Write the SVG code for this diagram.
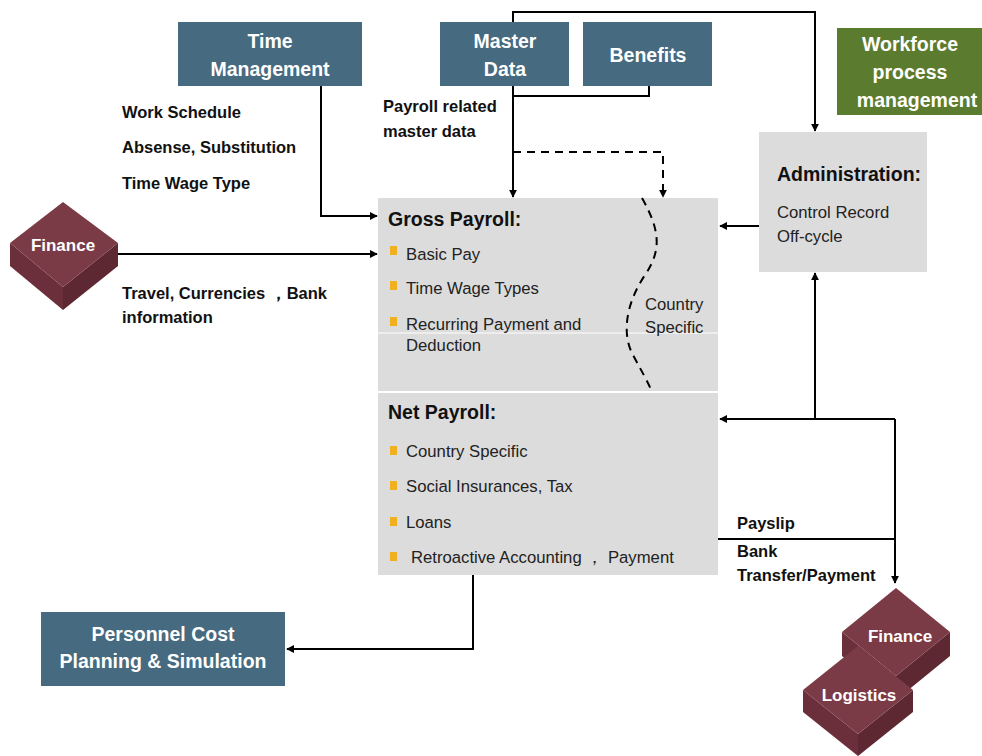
<svg xmlns="http://www.w3.org/2000/svg" width="982" height="756" viewBox="0 0 982 756">
<defs>
<marker id="ah" viewBox="0 0 10 10" refX="9" refY="5" markerWidth="8" markerHeight="8" markerUnits="userSpaceOnUse" orient="auto"><path d="M0,0 L10,5 L0,10 z" fill="#000"/></marker>
<style>
.blue{fill:#466a7f}
.gray{fill:#dcdcdc}
.wt{fill:#fff;font-family:"Liberation Sans",Arial,sans-serif;font-weight:bold;font-size:19.5px;text-anchor:middle}
.lb{fill:#111;font-family:"Liberation Sans",Arial,sans-serif;font-weight:bold;font-size:16.5px}
.hd{fill:#111;font-family:"Liberation Sans",Arial,sans-serif;font-weight:bold;font-size:19.5px}
.it{fill:#222;font-family:"Liberation Sans",Arial,sans-serif;font-size:16.7px}
.bul{fill:#f0b020}
.ln{fill:none;stroke:#000;stroke-width:2}
.dash{fill:none;stroke:#000;stroke-width:2;stroke-dasharray:8,6}
.m1{fill:#7b3b46}
.m2{fill:#6a2f3a}
.m3{fill:#5e2832}
</style>
</defs>
<rect width="982" height="756" fill="#fff"/>

<g id="time-management"><rect class="blue" x="178" y="22" width="184" height="64"/><text class="wt" x="270" y="48">Time</text><text class="wt" x="270" y="76">Management</text></g>
<g id="master-data"><rect class="blue" x="440" y="22" width="129" height="64"/><text class="wt" x="505" y="48">Master</text><text class="wt" x="505" y="76">Data</text></g>
<g id="benefits"><rect class="blue" x="583" y="22" width="129" height="64"/><text class="wt" x="648" y="62">Benefits</text></g>
<g id="workforce"><rect fill="#5b7b2f" x="837" y="28" width="145" height="87"/><text class="wt" x="910" y="51">Workforce</text><text class="wt" x="910" y="79">process</text><text class="wt" x="917" y="107">management</text></g>

<g id="administration"><rect class="gray" x="759" y="132" width="168" height="140"/><text class="hd" x="777" y="181">Administration:</text><text class="it" x="777" y="218">Control Record</text><text class="it" x="777" y="242">Off-cycle</text></g>

<g id="gross-payroll"><rect class="gray" x="378" y="198" width="340" height="193"/>
<line x1="378" y1="333" x2="718" y2="333" stroke="#fff" stroke-width="1"/>
<text class="hd" x="388" y="226">Gross Payroll:</text>
<rect class="bul" x="390" y="246" width="7" height="9"/><text class="it" x="406" y="260">Basic Pay</text>
<rect class="bul" x="390" y="281" width="7" height="9"/><text class="it" x="406" y="294">Time Wage Types</text>
<rect class="bul" x="390" y="317" width="7" height="9"/><text class="it" x="406" y="330">Recurring Payment and</text>
<text class="it" x="406" y="351">Deduction</text>
<path class="dash" d="M642,198 C660,230 662,250 645,275 C625,305 622,335 633,355 C642,372 648,382 652,392"/>
<text class="it" x="645" y="310">Country</text><text class="it" x="645" y="333">Specific</text>
</g>

<g id="net-payroll"><rect class="gray" x="378" y="393" width="340" height="182"/>
<text class="hd" x="388" y="419">Net Payroll:</text>
<rect class="bul" x="390" y="446" width="7" height="9"/><text class="it" x="406" y="457">Country Specific</text>
<rect class="bul" x="390" y="481" width="7" height="9"/><text class="it" x="406" y="492">Social Insurances, Tax</text>
<rect class="bul" x="390" y="517" width="7" height="9"/><text class="it" x="406" y="528">Loans</text>
<rect class="bul" x="390" y="552" width="7" height="9"/><text class="it" x="411" y="563">Retroactive Accounting ， Payment</text>
</g>

<g id="finance-left">
<polygon class="m2" points="10,243 63,287 63,310 10,266"/>
<polygon class="m3" points="63,287 118,243 118,266 63,310"/>
<polygon class="m1" points="63,202 118,243 63,287 10,243"/>
<text class="wt" x="63" y="251" style="font-size:17px">Finance</text>
</g>

<g id="personnel-cost"><rect class="blue" x="41" y="612" width="244" height="74"/><text class="wt" x="163" y="641">Personnel Cost</text><text class="wt" x="163" y="668">Planning &amp; Simulation</text></g>

<g id="finance-right">
<polygon class="m2" points="842,632 896,676 896,700 842,656"/>
<polygon class="m3" points="896,676 950,632 950,656 896,700"/>
<polygon class="m1" points="896,588 950,632 896,676 842,632"/>
<text class="wt" x="900" y="642" style="font-size:17px">Finance</text>
</g>
<g id="logistics">
<polygon class="m2" points="803,690 858,734 858,756 803,712"/>
<polygon class="m3" points="858,734 913,690 913,712 858,756"/>
<polygon class="m1" points="858,646 913,690 858,734 803,690"/>
<text class="wt" x="859" y="701" style="font-size:17px">Logistics</text>
</g>

<g id="labels">
<text class="lb" x="122" y="118">Work Schedule</text>
<text class="lb" x="122" y="153">Absense, Substitution</text>
<text class="lb" x="122" y="189">Time Wage Type</text>
<text class="lb" x="383" y="112">Payroll related</text>
<text class="lb" x="383" y="137">master data</text>
<text class="lb" x="122" y="299">Travel, Currencies ，Bank</text>
<text class="lb" x="122" y="323">information</text>
<text class="lb" x="737" y="529">Payslip</text>
<text class="lb" x="737" y="557">Bank</text>
<text class="lb" x="737" y="581">Transfer/Payment</text>
</g>

<g id="connectors">
<path class="ln" d="M321,86 V216 H377" marker-end="url(#ah)"/>
<path class="ln" d="M118,254 H377" marker-end="url(#ah)"/>
<path class="ln" d="M513,86 V197" marker-end="url(#ah)"/>
<path class="ln" d="M649,86 V96 H513"/>
<path class="ln" d="M513,22 V12 H815 V131" marker-end="url(#ah)"/>
<path class="dash" d="M513,152 H663 V197" marker-end="url(#ah)"/>
<path class="ln" d="M759,226 H720" marker-end="url(#ah)"/>
<path class="ln" d="M895,419 H720" marker-end="url(#ah)"/>
<path class="ln" d="M815,419 V273" marker-end="url(#ah)"/>
<path class="ln" d="M895,419 V583" marker-end="url(#ah)"/>
<path class="ln" d="M718,539 H895"/>
<path class="ln" d="M473,575 V649 H287" marker-end="url(#ah)"/>
</g>
</svg>
